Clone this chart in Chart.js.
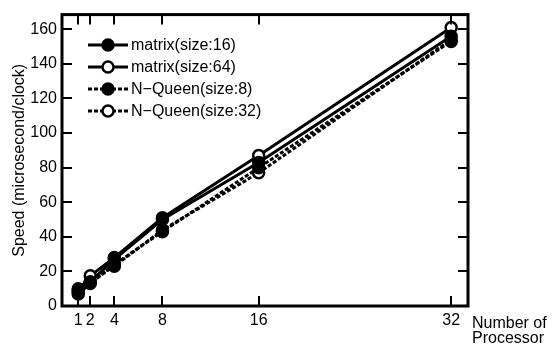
<!DOCTYPE html>
<html>
<head>
<meta charset="utf-8">
<script src="https://cdn.jsdelivr.net/npm/chart.js@4.4.0/dist/chart.umd.min.js"></script>
<style>
  html, body { margin: 0; padding: 0; background: #fff; }
  #wrap { width: 557px; height: 347px; position: relative; }
</style>
</head>
<body>
<div id="wrap"><canvas id="speedChart"></canvas></div>
<script>
// values
const processors = [1, 2, 4, 8, 16, 32];
const matrix16 = [10, 14, 27, 50, 83, 156];
const matrix64 = [9, 17.5, 28, 51, 87, 161];
const nqueen8 = [7, 13, 24, 43, 80, 153];
const nqueen32 = [8, 14, 23, 44, 77, 154];
const yTicks = [0, 20, 40, 60, 80, 100, 120, 140, 160];

const FONT = 'Liberation Sans, Arial, sans-serif';

function pts(values) {
    return processors.map((p, i) => ({ x: p, y: values[i] }));
}

function series(label, values, filled, dashed) {
    return {
        label: label,
        data: pts(values),
        borderColor: '#000',
        borderWidth: 3,
        borderDash: dashed ? [4, 2] : [],
        pointRadius: 5.5,
        pointBorderWidth: 2.5,
        pointBackgroundColor: filled ? '#000' : '#fff',
        pointBorderColor: '#000',
        fill: false,
        tension: 0
    };
}

// frame with inward ticks on all four sides, legend inside the plot, x title at the right
const framePlugin = {
    id: 'frame',
    afterDraw(chart) {
        const c = chart.ctx;
        const a = chart.chartArea;
        const xs = chart.scales.x;
        const ys = chart.scales.y;
        c.save();
        c.strokeStyle = '#000';
        c.lineWidth = 2;
        c.beginPath();
        processors.forEach(p => {
            const px = Math.round(xs.getPixelForValue(p));
            c.moveTo(px, a.bottom); c.lineTo(px, a.bottom - 10);
            c.moveTo(px, a.top); c.lineTo(px, a.top + 10);
        });
        yTicks.forEach(v => {
            const py = Math.round(ys.getPixelForValue(v));
            c.moveTo(a.left, py); c.lineTo(a.left + 10, py);
            c.moveTo(a.right, py); c.lineTo(a.right - 10, py);
        });
        c.stroke();
        c.lineWidth = 3;
        c.strokeRect(a.left, a.top, a.right - a.left, a.bottom - a.top);

        // legend
        c.font = '16px ' + FONT;
        c.textBaseline = 'middle';
        c.fillStyle = '#000';
        chart.data.datasets.forEach((ds, i) => {
            const y = 45 + i * 22;
            c.lineWidth = 3;
            c.setLineDash(ds.borderDash);
            c.beginPath();
            c.moveTo(88, y); c.lineTo(128, y);
            c.stroke();
            c.setLineDash([]);
            c.beginPath();
            c.arc(108, y, 5.5, 0, Math.PI * 2);
            c.fillStyle = ds.pointBackgroundColor;
            c.fill();
            c.lineWidth = 2.5;
            c.stroke();
            c.fillStyle = '#000';
            c.textAlign = 'left';
            c.fillText(ds.label, 131, y + 1);
        });

        // x axis title
        c.fillText('Number of', 472, 324);
        c.fillText('Processor', 472, 339);
        c.restore();
    }
};

new Chart(document.getElementById('speedChart'), {
    type: 'line',
    data: {
        datasets: [
            series('matrix(size:16)', matrix16, true, false),
            series('matrix(size:64)', matrix64, false, false),
            series('N\u2212Queen(size:8)', nqueen8, true, true),
            series('N\u2212Queen(size:32)', nqueen32, false, true)
        ]
    },
    options: {
        responsive: true,
        maintainAspectRatio: false,
        animation: false,
        layout: { padding: { top: 11, right: 89, left: 10, bottom: 0 } },
        plugins: {
            legend: { display: false },
            tooltip: { enabled: false }
        },
        scales: {
            x: {
                type: 'linear',
                min: -0.35,
                max: 33.4,
                afterBuildTicks(scale) {
                    scale.ticks = processors.map(v => ({ value: v }));
                },
                afterFit(scale) { scale.height = 41; },
                grid: { display: false, drawTicks: false },
                border: { display: false },
                ticks: {
                    color: '#000',
                    padding: 5,
                    maxRotation: 0,
                    autoSkip: false,
                    font: { size: 16, family: FONT }
                }
            },
            y: {
                min: 0,
                max: 168.5,
                afterBuildTicks(scale) {
                    scale.ticks = yTicks.map(v => ({ value: v }));
                },
                afterFit(scale) { scale.width = 52; },
                grid: { display: false, drawTicks: false },
                border: { display: false },
                title: {
                    display: true,
                    text: 'Speed (microsecond/clock)',
                    color: '#000',
                    padding: { top: 0, bottom: 0 },
                    font: { size: 16, family: FONT }
                },
                ticks: {
                    color: '#000',
                    padding: 5,
                    font: { size: 16, family: FONT }
                }
            }
        }
    },
    plugins: [framePlugin]
});
</script>
</body>
</html>
